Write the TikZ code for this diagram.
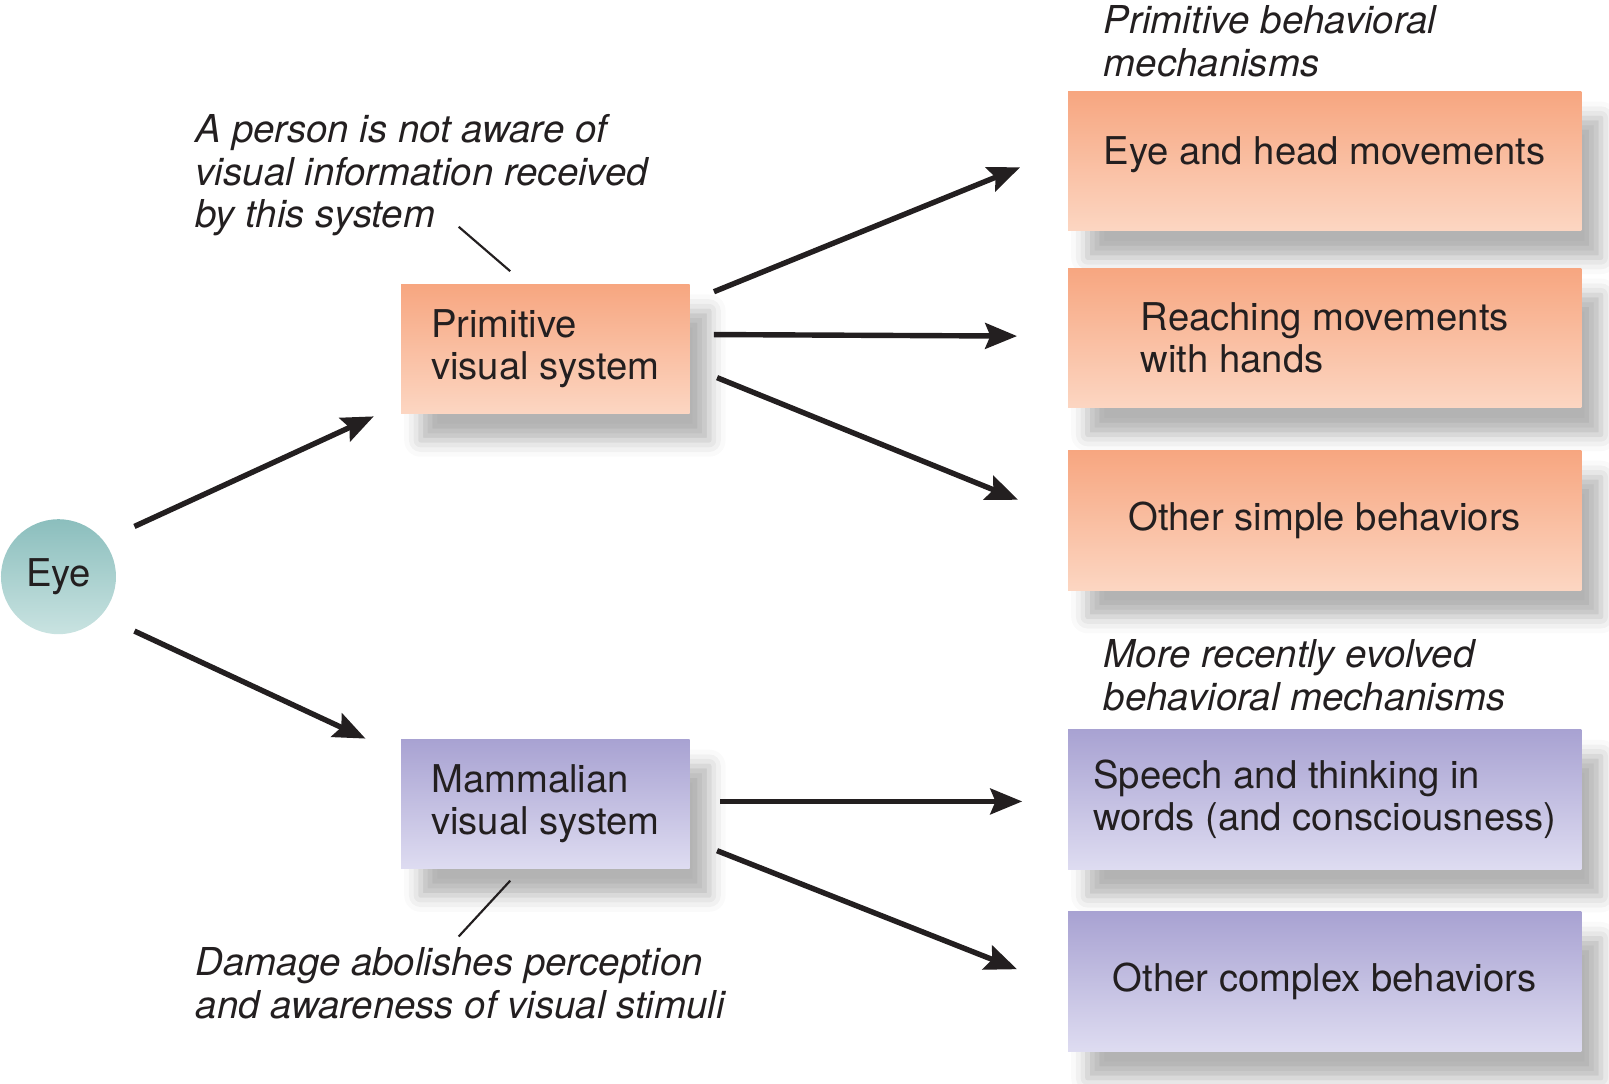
\documentclass[tikz,border=0pt]{standalone}
\usepackage{fontspec}
\setmainfont{TeX Gyre Heros}
\usetikzlibrary{positioning, calc, arrows.meta, shadows.blur}
\definecolor{inkdark}{HTML}{231F20}
\definecolor{orangetop}{HTML}{F7A680}
\definecolor{orangebot}{HTML}{FCD6C2}
\definecolor{purpletop}{HTML}{A8A2D2}
\definecolor{purplebot}{HTML}{DEDCF1}
\definecolor{tealtop}{HTML}{8BBEBD}
\definecolor{tealbot}{HTML}{C9E3E1}

\tikzset{
    sysbox/.style={rectangle, minimum width=2.81cm, minimum height=1.26cm,
        align=left, inner sep=0pt, text=inkdark,
        blur shadow={shadow xshift=0.19cm, shadow yshift=-0.26cm,
            shadow blur radius=0.16cm, shadow opacity=30}},
    behbox/.style={sysbox, minimum width=5cm, minimum height=1.36cm},
    primfill/.style={top color=orangetop, bottom color=orangebot},
    mammfill/.style={top color=purpletop, bottom color=purplebot},
    note/.style={font=\fontsize{10.65pt}{11.8pt}\selectfont\itshape, align=left,
        inner sep=0pt, text=inkdark, anchor=west},
    flow/.style={-{Stealth[length=0.31cm, width=0.25cm, inset=0.05cm]},
        line width=1.5pt, draw=inkdark},
    leader/.style={line width=0.6pt, draw=inkdark}
}

\begin{document}
\begin{tikzpicture}[x=0.01cm, y=-0.01cm,
    font=\fontsize{10.6pt}{11.7pt}\selectfont]
    \useasboundingbox (0,0) rectangle (1568,1056);
    % Eye and the two visual systems
        \node[circle, minimum size=1.12cm, inner sep=0pt, text=inkdark,
              top color=tealtop, bottom color=tealbot
              ] (eye) at (57,562) {Eye};
        \node[sysbox, primfill
              ] (prim) at (531.5,340) {Primitive\\visual system};
        \node[sysbox, mammfill
              ] (mamm) at (531.5,783.5) {Mammalian\\visual system};
    % Behaviours
        \node[behbox, primfill, text depth=0.2cm
              ] (eyehead) at (1291,157) {Eye and head movements};
        \node[behbox, primfill,
              below=0.35cm of eyehead
              ] (reach) {Reaching movements\\with hands};
        \node[behbox, primfill,
              below=0.4cm of reach
              ] (simple) {Other simple behaviors};
        \node[behbox, mammfill
              ] (speech) at (1291,779) {Speech and thinking in\\words (and consciousness)};
        \node[behbox, mammfill,
              below=0.4cm of speech
              ] (complex) {Other complex behaviors};
    % Notes
        \node[note] (primnote) at (1075,40) {Primitive behavioral\\mechanisms};
        \node[note] (unaware) at (190,171) {A person is not aware of\\visual information received\\by this system};
        \node[note] (recentnote) at (1075,658) {More recently evolved\\behavioral mechanisms};
        \node[note] (damage) at (190,958) {Damage abolishes perception\\and awareness of visual stimuli};

        \draw[leader] ($(unaware.south west)+(257,-10)$) -- ($(prim.north west)+(107,-12)$);
        \draw[leader] ($(mamm.south west)+(107,11)$) -- ($(damage.north west)+(257,-10)$);

       \draw[flow] ($(eye.center)+(74,-49)$) -- ($(prim.south west)+(-26,2)$);
       \draw[flow] ($(eye.center)+(74,53)$) -- ($(mamm.north west)+(-34,0)$);
       \draw[flow] ($(prim.north east)+(23,8)$) -- ($(eyehead.west)+(-46,6)$);
       \draw[flow] ($(prim.east)+(23,-14)$) -- ($(reach.west)+(-49,-2)$);
       \draw[flow] ($(prim.east)+(26,28)$) -- ($(simple.west)+(-48,-20)$);
       \draw[flow] ($(mamm.east)+(29,-2.5)$) -- ($(speech.west)+(-44,2)$);
       \draw[flow] ($(mamm.east)+(26,45.5)$) -- ($(complex.west)+(-49,-12)$);
    \end{tikzpicture}
\end{document}
